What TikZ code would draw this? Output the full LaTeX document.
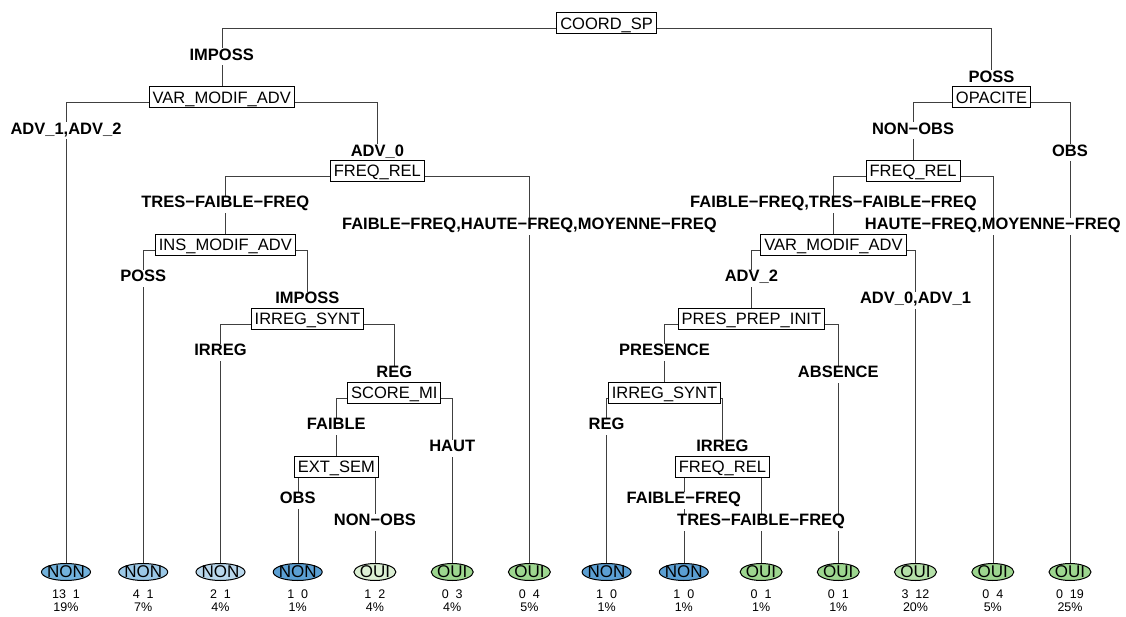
\documentclass[tikz,border=0pt]{standalone}
\usepackage{fontspec}
\setmainfont{Liberation Sans}
\usetikzlibrary{shapes.geometric,positioning}

\definecolor{nonA}{HTML}{72B2DC}
\definecolor{nonB}{HTML}{9BC8E6}
\definecolor{nonC}{HTML}{B9D7EC}
\definecolor{nonD}{HTML}{5B9FD3}
\definecolor{ouiA}{HTML}{DCF0D4}
\definecolor{ouiB}{HTML}{9DD68F}
\definecolor{ouiC}{HTML}{B4E0A8}

\pgfdeclarelayer{background}
\pgfdeclarelayer{labels}
\pgfsetlayers{background,labels,main}

\newcommand{\leaftext}[1]{\makebox[0pt]{#1}}

\begin{document}
\begin{tikzpicture}[
    x=1bp, y=-1bp, line width=1bp,
    split/.style={draw, fill=white, inner xsep=3.5bp, inner ysep=4.75bp,
      text height=11.8bp, text depth=0pt, font=\fontsize{16.5bp}{19bp}\selectfont},
    cond/.style={fill=white, inner xsep=1.5bp, inner ysep=0pt, anchor=base,
      text height=12bp, text depth=5bp, font=\fontsize{16.5bp}{19bp}\selectfont\bfseries},
    leaf/.style={ellipse, draw, inner sep=0pt, text height=11.2bp, text depth=0pt,
      minimum height=17bp, font=\fontsize{17bp}{19bp}\selectfont},
    nonleaf/.style={leaf, fill=#1, minimum width=49bp},
    ouileaf/.style={leaf, fill=#1, minimum width=42bp},
    stats/.style={below=8bp of #1, align=center, inner sep=0pt,
      font=\fontsize{12.5bp}{13bp}\selectfont},
    branch/.style={draw=black!75}
  ]
  \useasboundingbox (0,0) rectangle (1126,617);

  % splits
  \node[split] (root) at (606.6,23.3) {COORD\_SP};
  \node[split] (varL) at (221.7,97.2) {VAR\_MODIF\_ADV};
  \node[split] (opac) at (991.55,97.2) {OPACITE};
  \node[split] (freqL) at (377.35,171.1) {FREQ\_REL};
  \node[split] (freqR) at (913.1,171.1) {FREQ\_REL};
  \node[split] (insmod) at (225.3,245) {INS\_MODIF\_ADV};
  \node[split] (varR) at (833.45,245) {VAR\_MODIF\_ADV};
  \node[split] (irregL) at (307.4,318.9) {IRREG\_SYNT};
  \node[split] (presprep) at (751.4,318.9) {PRES\_PREP\_INIT};
  \node[split] (scoremi) at (394.25,392.8) {SCORE\_MI};
  \node[split] (irregR) at (664.5,392.8) {IRREG\_SYNT};
  \node[split] (extsem) at (336.3,466.7) {EXT\_SEM};
  \node[split] (freqB) at (722.45,466.7) {FREQ\_REL};

  % leaves
  \node[nonleaf=nonA] (l1) at (66,572) {\leaftext{NON}};
  \node[nonleaf=nonB] (l2) at (143.2,572) {\leaftext{NON}};
  \node[nonleaf=nonC] (l3) at (220.5,572) {\leaftext{NON}};
  \node[nonleaf=nonD] (l4) at (297.7,572) {\leaftext{NON}};
  \node[ouileaf=ouiA] (l5) at (374.9,572) {\leaftext{OUI}};
  \node[ouileaf=ouiB] (l6) at (452.2,572) {\leaftext{OUI}};
  \node[ouileaf=ouiB] (l7) at (529.4,572) {\leaftext{OUI}};
  \node[nonleaf=nonD] (l8) at (606.6,572) {\leaftext{NON}};
  \node[nonleaf=nonD] (l9) at (683.8,572) {\leaftext{NON}};
  \node[ouileaf=ouiB] (l10) at (761.1,572) {\leaftext{OUI}};
  \node[ouileaf=ouiB] (l11) at (838.3,572) {\leaftext{OUI}};
  \node[ouileaf=ouiC] (l12) at (915.5,572) {\leaftext{OUI}};
  \node[ouileaf=ouiB] (l13) at (992.8,572) {\leaftext{OUI}};
  \node[ouileaf=ouiB] (l14) at (1070,572) {\leaftext{OUI}};

  \node[stats=l1] (s1) {13\ \ 1\\19\%};
  \node[stats=l2] (s2) {4\ \ 1\\7\%};
  \node[stats=l3] (s3) {2\ \ 1\\4\%};
  \node[stats=l4] (s4) {1\ \ 0\\1\%};
  \node[stats=l5] (s5) {1\ \ 2\\4\%};
  \node[stats=l6] (s6) {0\ \ 3\\4\%};
  \node[stats=l7] (s7) {0\ \ 4\\5\%};
  \node[stats=l8] (s8) {1\ \ 0\\1\%};
  \node[stats=l9] (s9) {1\ \ 0\\1\%};
  \node[stats=l10] (s10) {0\ \ 1\\1\%};
  \node[stats=l11] (s11) {0\ \ 1\\1\%};
  \node[stats=l12] (s12) {3\ \ 12\\20\%};
  \node[stats=l13] (s13) {0\ \ 4\\5\%};
  \node[stats=l14] (s14) {0\ \ 19\\25\%};

  % branches
  \begin{pgfonlayer}{background}
  \draw[branch] ([yshift=-5bp]root.west) -| (varL.north);
  \draw[branch] ([yshift=-5bp]root.east) -| (opac.north);
  \draw[branch] ([yshift=-5bp]varL.west) -| (l1.north);
  \draw[branch] ([yshift=-5bp]varL.east) -| (freqL.north);
  \draw[branch] ([yshift=-5bp]opac.west) -| (freqR.north);
  \draw[branch] ([yshift=-5bp]opac.east) -| (l14.north);
  \draw[branch] ([yshift=-5bp]freqL.west) -| (insmod.north);
  \draw[branch] ([yshift=-5bp]freqL.east) -| (l7.north);
  \draw[branch] ([yshift=-5bp]freqR.west) -| (varR.north);
  \draw[branch] ([yshift=-5bp]freqR.east) -| (l13.north);
  \draw[branch] ([yshift=-5bp]insmod.west) -| (l2.north);
  \draw[branch] ([yshift=-5bp]insmod.east) -| (irregL.north);
  \draw[branch] ([yshift=-5bp]varR.west) -| (presprep.north);
  \draw[branch] ([yshift=-5bp]varR.east) -| (l12.north);
  \draw[branch] ([yshift=-5bp]irregL.west) -| (l3.north);
  \draw[branch] ([yshift=-5bp]irregL.east) -| (scoremi.north);
  \draw[branch] ([yshift=-5bp]presprep.west) -| (irregR.north);
  \draw[branch] ([yshift=-5bp]presprep.east) -| (l11.north);
  \draw[branch] ([yshift=-5bp]scoremi.west) -| (extsem.north);
  \draw[branch] ([yshift=-5bp]scoremi.east) -| (l6.north);
  \draw[branch] ([yshift=-5bp]irregR.west) -| (l8.north);
  \draw[branch] ([yshift=-5bp]irregR.east) -| (freqB.north);
  \draw[branch] ([yshift=-5bp]extsem.west) -| (l4.north);
  \draw[branch] ([yshift=-5bp]extsem.east) -| (l5.north);
  \draw[branch] ([yshift=-5bp]freqB.west) -| (l9.north);
  \draw[branch] ([yshift=-5bp]freqB.east) -| (l10.north);
  \end{pgfonlayer}

  % split conditions
  \begin{pgfonlayer}{labels}
  \node[cond] (c-root-l) at (221.7,60.2) {IMPOSS};
  \node[cond] (c-root-r) at (991.55,82.2) {POSS};
  \node[cond] (c-varL-l) at (66,134.1) {ADV\_1,ADV\_2};
  \node[cond] (c-varL-r) at (377.35,156.1) {ADV\_0};
  \node[cond] (c-opac-l) at (913.1,134.1) {NON−OBS};
  \node[cond] (c-opac-r) at (1070,156.1) {OBS};
  \node[cond] (c-freqL-l) at (225.3,208) {TRES−FAIBLE−FREQ};
  \node[cond] (c-freqL-r) at (529.4,230) {FAIBLE−FREQ,HAUTE−FREQ,MOYENNE−FREQ};
  \node[cond] (c-freqR-l) at (833.45,208) {FAIBLE−FREQ,TRES−FAIBLE−FREQ};
  \node[cond] (c-freqR-r) at (992.8,230) {HAUTE−FREQ,MOYENNE−FREQ};
  \node[cond] (c-insmod-l) at (143.2,281.9) {POSS};
  \node[cond] (c-insmod-r) at (307.4,303.9) {IMPOSS};
  \node[cond] (c-varR-l) at (751.4,281.9) {ADV\_2};
  \node[cond] (c-varR-r) at (915.5,303.9) {ADV\_0,ADV\_1};
  \node[cond] (c-irregL-l) at (220.5,355.8) {IRREG};
  \node[cond] (c-irregL-r) at (394.25,377.8) {REG};
  \node[cond] (c-presprep-l) at (664.5,355.8) {PRESENCE};
  \node[cond] (c-presprep-r) at (838.3,377.8) {ABSENCE};
  \node[cond] (c-scoremi-l) at (336.3,429.7) {FAIBLE};
  \node[cond] (c-scoremi-r) at (452.2,451.7) {HAUT};
  \node[cond] (c-irregR-l) at (606.6,429.7) {REG};
  \node[cond] (c-irregR-r) at (722.45,451.7) {IRREG};
  \node[cond] (c-extsem-l) at (297.7,503.6) {OBS};
  \node[cond] (c-extsem-r) at (374.9,525.6) {NON−OBS};
  \node[cond] (c-freqB-l) at (683.8,503.6) {FAIBLE−FREQ};
  \node[cond] (c-freqB-r) at (761.1,525.6) {TRES−FAIBLE−FREQ};
  \end{pgfonlayer}
\end{tikzpicture}
\end{document}
